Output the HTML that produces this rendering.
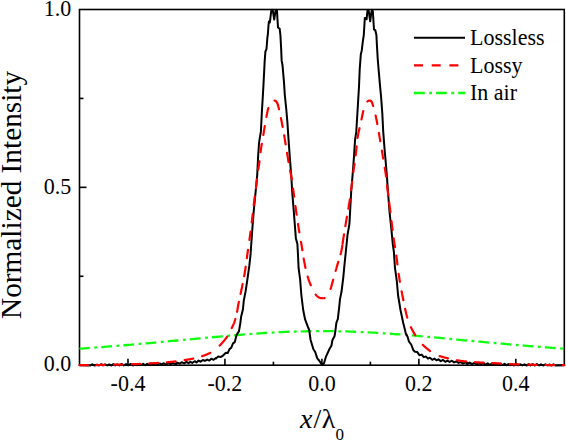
<!DOCTYPE html>
<html><head><meta charset="utf-8"><style>
html,body{margin:0;padding:0;background:#fff;}
svg{display:block;}
text{font-family:"Liberation Serif",serif;fill:#000;}
</style></head><body>
<svg width="566" height="441" viewBox="0 0 566 441">
<rect width="566" height="441" fill="#fff"/>
<g stroke="#000" stroke-width="1.6" fill="none">
<rect x="79.5" y="9.5" width="484.80" height="355.70"/>
<line x1="127.98" y1="365.20" x2="127.98" y2="358.70"/>
<line x1="176.46" y1="365.20" x2="176.46" y2="361.70"/>
<line x1="224.94" y1="365.20" x2="224.94" y2="358.70"/>
<line x1="273.42" y1="365.20" x2="273.42" y2="361.70"/>
<line x1="321.90" y1="365.20" x2="321.90" y2="358.70"/>
<line x1="370.38" y1="365.20" x2="370.38" y2="361.70"/>
<line x1="418.86" y1="365.20" x2="418.86" y2="358.70"/>
<line x1="467.34" y1="365.20" x2="467.34" y2="361.70"/>
<line x1="515.82" y1="365.20" x2="515.82" y2="358.70"/>
<line x1="79.50" y1="276.27" x2="83.50" y2="276.27"/>
<line x1="79.50" y1="187.35" x2="86.50" y2="187.35"/>
<line x1="79.50" y1="98.43" x2="83.50" y2="98.43"/>
</g>
<g fill="none" stroke-linejoin="round">
<polyline points="79.50,348.70 82.00,348.53 84.50,348.35 87.00,348.17 89.50,347.99 92.00,347.80 94.50,347.62 97.00,347.43 99.50,347.24 102.00,347.05 104.50,346.85 107.00,346.66 109.50,346.46 112.00,346.26 114.50,346.06 117.00,345.85 119.50,345.65 122.00,345.44 124.50,345.23 127.00,345.02 129.50,344.81 132.00,344.60 134.50,344.38 137.00,344.16 139.50,343.94 142.00,343.72 144.50,343.50 147.00,343.28 149.50,343.05 152.00,342.83 154.50,342.60 157.00,342.37 159.50,342.14 162.00,341.91 164.50,341.68 167.00,341.45 169.50,341.22 172.00,340.98 174.50,340.75 177.00,340.51 179.50,340.28 182.00,340.04 184.50,339.81 187.00,339.57 189.50,339.33 192.00,339.10 194.50,338.86 197.00,338.63 199.50,338.39 202.00,338.16 204.50,337.93 207.00,337.69 209.50,337.46 212.00,337.23 214.50,337.01 217.00,336.78 219.50,336.55 222.00,336.33 224.50,336.11 227.00,335.89 229.50,335.68 232.00,335.46 234.50,335.25 237.00,335.04 239.50,334.84 242.00,334.64 244.50,334.44 247.00,334.25 249.50,334.06 252.00,333.88 254.50,333.70 257.00,333.52 259.50,333.35 262.00,333.18 264.50,333.02 267.00,332.86 269.50,332.71 272.00,332.57 274.50,332.43 277.00,332.30 279.50,332.17 282.00,332.05 284.50,331.94 287.00,331.83 289.50,331.73 292.00,331.64 294.50,331.55 297.00,331.47 299.50,331.40 302.00,331.33 304.50,331.28 307.00,331.23 309.50,331.18 312.00,331.15 314.50,331.12 317.00,331.10 319.50,331.09 322.00,331.09 324.50,331.09 327.00,331.10 329.50,331.12 332.00,331.15 334.50,331.18 337.00,331.23 339.50,331.28 342.00,331.33 344.50,331.40 347.00,331.47 349.50,331.55 352.00,331.64 354.50,331.73 357.00,331.83 359.50,331.94 362.00,332.05 364.50,332.17 367.00,332.30 369.50,332.43 372.00,332.57 374.50,332.71 377.00,332.86 379.50,333.02 382.00,333.18 384.50,333.35 387.00,333.52 389.50,333.70 392.00,333.88 394.50,334.06 397.00,334.25 399.50,334.44 402.00,334.64 404.50,334.84 407.00,335.04 409.50,335.25 412.00,335.46 414.50,335.68 417.00,335.89 419.50,336.11 422.00,336.33 424.50,336.55 427.00,336.78 429.50,337.01 432.00,337.23 434.50,337.46 437.00,337.69 439.50,337.93 442.00,338.16 444.50,338.39 447.00,338.63 449.50,338.86 452.00,339.10 454.50,339.33 457.00,339.57 459.50,339.81 462.00,340.04 464.50,340.28 467.00,340.51 469.50,340.75 472.00,340.98 474.50,341.22 477.00,341.45 479.50,341.68 482.00,341.91 484.50,342.14 487.00,342.37 489.50,342.60 492.00,342.83 494.50,343.05 497.00,343.28 499.50,343.50 502.00,343.72 504.50,343.94 507.00,344.16 509.50,344.38 512.00,344.60 514.50,344.81 517.00,345.02 519.50,345.23 522.00,345.44 524.50,345.65 527.00,345.85 529.50,346.06 532.00,346.26 534.50,346.46 537.00,346.66 539.50,346.85 542.00,347.05 544.50,347.24 547.00,347.43 549.50,347.62 552.00,347.80 554.50,347.99 557.00,348.17 559.50,348.35 562.00,348.53 564.50,348.70 564.30,348.69" stroke="#10ff10" stroke-width="2.3" stroke-dasharray="10.8 4.55 2.8 4.1" stroke-dashoffset="0.5"/>
<polyline points="79.50,365.20 90.00,365.50 92.25,364.29 94.63,365.50 97.00,364.58 99.08,365.50 101.27,364.19 103.13,365.50 105.07,364.31 107.21,365.50 109.13,364.40 111.50,365.50 113.38,364.13 115.25,365.50 117.12,364.41 119.45,365.45 121.37,363.95 123.71,365.43 126.10,364.07 128.31,365.33 130.69,363.94 133.08,365.50 135.06,364.02 136.95,365.19 138.77,364.00 140.94,365.06 143.15,363.87 145.13,365.27 147.22,363.75 149.31,365.09 151.13,363.34 152.93,364.99 155.24,363.61 157.52,364.68 159.67,363.48 161.49,364.48 163.87,363.26 166.14,364.63 168.51,363.00 170.52,364.25 172.80,362.90 175.05,364.16 177.38,362.72 179.76,363.64 181.76,362.23 184.12,363.44 186.49,361.93 188.47,363.13 190.37,361.83 192.25,362.87 194.66,361.20 196.48,362.41 198.60,360.55 200.53,361.71 202.84,360.03 204.89,360.94 207.25,359.56 209.35,360.60 211.21,358.71 213.60,359.82 215.88,357.95 216.20,358.40 218.00,356.60 220.60,357.10 223.30,355.30 225.90,352.70 227.70,353.10 229.50,349.10 231.20,347.80 233.00,343.40 234.80,342.10 236.10,336.80 236.80,334.50 238.90,331.40 240.20,324.10 241.10,316.80 242.90,309.50 243.80,300.50 245.60,291.40 247.50,278.60 249.30,265.90 250.50,255.00 252.30,229.50 253.70,211.40 255.50,193.20 257.20,175.00 258.20,155.00 259.10,142.30 260.90,131.40 261.80,113.20 262.60,100.00 263.60,82.40 264.70,60.90 265.40,51.70 266.50,49.00 267.40,37.30 267.80,35.00 268.50,25.50 268.90,21.50 269.80,22.50 270.30,19.00 271.20,11.10 272.00,9.90 272.80,10.50 274.20,19.60 275.50,11.00 276.20,9.90 277.00,10.50 277.40,18.00 278.00,27.40 279.70,28.80 280.40,35.00 281.10,47.60 281.50,57.00 281.70,60.90 282.50,65.20 284.00,82.40 284.80,95.00 286.30,109.50 287.40,122.30 288.60,140.50 289.90,158.60 291.20,175.00 292.30,193.20 293.20,204.10 294.50,220.50 295.90,238.60 297.40,244.10 298.00,255.00 298.60,268.20 300.10,279.10 301.40,295.50 303.20,310.00 305.00,319.10 307.70,326.40 309.20,330.00 310.60,340.00 313.40,349.20 315.20,352.00 317.30,358.40 319.10,360.50 321.90,364.70 324.00,363.30 326.10,356.30 329.70,348.50 331.40,345.70 332.50,340.00 334.60,336.00 335.50,330.00 336.40,322.70 337.80,319.10 339.10,308.20 340.00,299.10 341.50,291.80 343.30,277.30 344.50,264.50 345.80,252.00 347.50,235.00 349.40,224.10 350.30,207.70 351.20,191.40 352.60,175.00 354.10,155.00 355.00,140.50 356.30,131.40 357.40,113.20 358.20,100.00 359.00,86.70 359.70,69.50 360.80,54.50 361.80,50.20 362.90,40.80 363.80,35.00 364.40,25.00 364.80,18.00 365.80,18.50 366.60,19.30 367.10,14.00 367.60,10.20 368.60,10.20 370.20,21.30 371.40,12.00 372.00,10.00 372.80,11.00 373.30,18.60 374.00,29.50 375.30,30.20 376.40,35.00 376.90,45.00 377.80,60.00 378.60,69.50 380.10,86.70 381.10,97.00 382.30,113.20 383.20,131.40 384.60,149.50 385.90,164.10 386.80,175.00 388.10,193.20 389.50,211.40 391.40,229.50 392.80,244.10 393.90,252.00 395.00,268.20 396.80,280.90 398.10,295.50 400.50,310.00 403.20,322.70 405.00,330.00 405.80,333.60 407.60,336.80 409.00,341.70 411.20,344.50 413.40,350.30 415.00,351.83 417.32,352.07 419.39,355.17 421.71,354.60 423.78,357.15 426.02,356.59 427.99,358.62 429.87,357.72 432.28,359.77 434.46,358.64 436.46,360.29 438.41,359.36 440.74,361.16 443.02,359.98 445.25,361.81 447.51,360.57 449.74,361.99 451.83,360.73 454.05,362.41 456.43,361.35 458.58,362.90 460.71,362.06 462.92,363.53 465.22,362.28 467.51,363.87 469.70,362.57 472.00,364.12 474.32,362.74 476.54,364.61 478.93,363.12 481.05,364.49 483.36,363.14 485.44,364.87 487.68,363.35 489.57,365.02 491.73,363.50 493.78,365.08 496.05,363.63 498.29,364.95 500.17,363.83 502.37,365.11 504.59,363.81 506.40,365.27 508.32,364.10 510.19,365.26 512.09,364.09 513.90,365.37 515.92,363.97 518.08,365.33 520.44,364.28 522.48,365.41 524.52,364.29 526.83,365.50 528.64,364.13 530.48,365.50 532.48,364.19 534.87,365.50 536.92,364.13 539.11,365.50 540.98,364.26 543.12,365.50 545.52,364.29 547.52,365.50 549.31,364.53 551.45,365.50 553.32,364.35 555.67,365.50 564.30,365.20" stroke="#000" stroke-width="2"/>
<path d="M79.50,365.20 L80.03,365.20 L80.56,365.19 L81.09,365.19 L81.62,365.18 L82.14,365.18 L82.65,365.18 L83.17,365.17 L83.69,365.17 L84.20,365.17 L84.73,365.16 L85.25,365.16 L85.78,365.16 L86.30,365.15 L86.83,365.15 L87.35,365.15 L87.88,365.14 M96.32,365.06 L96.85,365.05 L97.37,365.04 L97.90,365.03 L98.42,365.02 L98.95,365.02 L99.47,365.01 L100.00,365.00 L100.51,364.99 L101.01,364.98 L101.52,364.97 L102.03,364.96 L102.54,364.95 L103.04,364.94 L103.55,364.93 L104.06,364.92 L104.57,364.91 L104.82,364.91 M114.01,364.72 L114.52,364.70 L115.03,364.69 L115.54,364.68 L116.05,364.67 L116.56,364.66 L117.07,364.65 L117.58,364.63 L118.09,364.62 L118.60,364.61 L119.11,364.60 L119.62,364.58 L120.13,364.57 L120.64,364.56 L121.15,364.55 L121.66,364.53 L122.17,364.52 L122.42,364.51 M131.82,364.24 L132.34,364.22 L132.86,364.20 L133.38,364.19 L133.90,364.17 L134.43,364.15 L134.97,364.13 L135.50,364.11 L136.04,364.09 L136.57,364.07 L137.10,364.05 L137.64,364.03 L138.17,364.00 L138.70,363.98 L139.23,363.96 L139.76,363.93 L140.30,363.91 M149.50,363.43 L150.00,363.40 L150.53,363.37 L151.07,363.34 L151.60,363.31 L152.14,363.27 L152.67,363.24 L153.21,363.21 L153.73,363.18 L154.24,363.15 L154.75,363.12 L155.26,363.09 L155.77,363.06 L156.27,363.03 L156.78,363.00 L157.29,362.96 L157.81,362.93 L158.06,362.92 M166.86,362.28 L167.39,362.24 L167.92,362.19 L168.43,362.14 L168.95,362.09 L169.46,362.05 L169.97,362.00 L170.49,361.95 L171.00,361.90 L171.51,361.84 L172.01,361.79 L172.52,361.73 L173.02,361.67 L173.53,361.62 L174.04,361.56 L174.54,361.50 L175.05,361.44 L175.56,361.37 M184.61,360.11 L185.11,360.03 L185.61,359.95 L186.11,359.87 L186.61,359.79 L187.14,359.71 L187.67,359.62 L188.20,359.53 L188.73,359.44 L189.28,359.35 L189.83,359.25 L190.39,359.14 L190.95,359.04 L191.47,358.93 L191.99,358.81 L192.51,358.70 L193.03,358.57 L193.29,358.50 M202.10,356.20 L202.60,356.02 L203.11,355.83 L203.60,355.65 L204.09,355.46 L204.58,355.28 L205.08,355.08 L205.59,354.88 L206.11,354.67 L206.62,354.46 L207.14,354.25 L207.65,354.03 L208.14,353.82 L208.61,353.61 L209.08,353.40 L209.55,353.17 L210.03,352.94 L210.26,352.82 M219.70,345.60 L220.07,345.22 L220.43,344.84 L220.80,344.46 L221.15,344.07 L221.50,343.68 L221.85,343.29 L222.20,342.89 L222.57,342.46 L222.93,342.04 L223.29,341.62 L223.65,341.19 L224.00,340.77 L224.36,340.34 L224.69,339.92 L225.02,339.52 L225.34,339.12 L225.66,338.72 L225.97,338.31 L226.29,337.91 L226.60,337.50 L226.96,336.99 L227.14,336.74 M231.72,328.09 L232.00,327.50 L232.29,326.91 L232.57,326.32 L232.86,325.74 L233.15,325.14 L233.40,324.60 L233.62,324.11 L233.84,323.60 L234.06,323.05 L234.25,322.52 L234.43,322.01 L234.60,321.50 L234.75,320.99 L234.90,320.48 L235.05,319.97 L235.18,319.46 L235.32,318.96 M237.02,311.80 L237.14,311.27 L237.25,310.74 L237.36,310.23 L237.46,309.71 L237.56,309.18 L237.65,308.65 L237.75,308.01 L237.83,307.44 L237.90,306.94 L237.99,306.41 L238.08,305.83 L238.18,305.26 L238.29,304.68 L238.40,304.10 L238.50,303.61 L238.60,303.12 L238.70,302.63 L238.81,302.11 L238.87,301.84 M240.58,293.90 L240.68,293.40 L240.79,292.90 L240.89,292.40 L241.00,291.90 L241.10,291.40 L241.21,290.87 L241.32,290.33 L241.43,289.80 L241.54,289.26 L241.65,288.73 L241.76,288.21 L241.87,287.69 L241.98,287.18 L242.09,286.66 L242.20,286.14 L242.30,285.63 L242.41,285.13 L242.51,284.63 L242.62,284.13 M244.16,276.26 L244.25,275.75 L244.34,275.24 L244.43,274.73 L244.52,274.22 L244.61,273.71 L244.70,273.20 L244.78,272.70 L244.86,272.20 L244.94,271.70 L245.02,271.20 L245.09,270.70 L245.17,270.20 L245.25,269.70 L245.32,269.21 L245.40,268.71 L245.47,268.22 L245.54,267.72 L245.61,267.22 L245.68,266.73 M246.86,258.08 L246.94,257.56 L247.01,257.03 L247.08,256.50 L247.15,255.97 L247.22,255.45 L247.29,254.92 L247.36,254.39 L247.43,253.86 L247.51,253.33 L247.58,252.80 L247.65,252.26 L247.73,251.73 L247.80,251.20 L247.88,250.67 L247.95,250.14 L247.99,249.88 M249.42,239.92 L249.50,239.41 L249.57,238.90 L249.64,238.38 L249.71,237.86 L249.79,237.35 L249.86,236.83 L249.93,236.30 L250.01,235.76 L250.08,235.22 L250.15,234.68 L250.23,234.14 L250.30,233.60 L250.37,233.07 L250.44,232.55 L250.51,232.02 L250.58,231.50 M251.74,222.32 L251.81,221.82 L251.87,221.32 L251.93,220.81 L252.00,220.30 L252.06,219.77 L252.12,219.25 L252.19,218.73 L252.25,218.20 L252.32,217.68 L252.38,217.15 L252.44,216.62 L252.51,216.09 L252.57,215.56 L252.64,215.03 L252.70,214.50 L252.76,213.97 M253.74,205.18 L253.79,204.65 L253.85,204.15 L253.91,203.65 L253.96,203.15 L254.02,202.65 L254.08,202.13 L254.14,201.61 L254.21,201.08 L254.27,200.56 L254.33,200.03 L254.40,199.48 L254.47,198.93 L254.54,198.39 L254.61,197.84 L254.68,197.34 L254.75,196.84 L254.82,196.33 M255.95,188.08 L256.02,187.54 L256.09,187.00 L256.16,186.47 L256.23,185.93 L256.30,185.40 L256.36,184.88 L256.43,184.36 L256.49,183.84 L256.56,183.32 L256.62,182.81 L256.68,182.30 L256.74,181.79 L256.80,181.28 L256.86,180.77 L256.91,180.27 L256.97,179.77 L257.03,179.27 M258.23,169.64 L258.31,169.13 L258.39,168.61 L258.47,168.10 L258.55,167.59 L258.63,167.08 L258.71,166.58 L258.79,166.07 L258.86,165.57 L258.94,165.08 L259.02,164.58 L259.10,164.08 L259.18,163.56 L259.26,163.01 L259.35,162.45 L259.43,161.90 L259.51,161.35 M260.56,152.08 L260.62,151.57 L260.69,151.05 L260.76,150.53 L260.83,150.02 L260.90,149.50 L260.98,148.97 L261.06,148.44 L261.14,147.91 L261.22,147.38 L261.30,146.86 L261.39,146.33 L261.47,145.81 L261.56,145.29 L261.64,144.76 L261.73,144.25 L261.81,143.74 M263.30,134.98 L263.38,134.47 L263.47,133.96 L263.56,133.45 L263.64,132.94 L263.73,132.43 L263.81,131.92 L263.90,131.41 L263.98,130.90 L264.07,130.39 L264.16,129.86 L264.24,129.33 L264.33,128.80 L264.42,128.27 L264.51,127.74 L264.60,127.21 L264.68,126.68 L264.77,126.15 M266.40,116.80 L266.50,116.30 L266.59,115.79 L266.69,115.29 L266.79,114.78 L266.89,114.27 L266.99,113.76 L267.10,113.25 L267.20,112.73 L267.32,112.20 L267.43,111.67 L267.55,111.12 L267.69,110.55 L267.82,109.98 L267.95,109.46 L268.09,108.95 L268.24,108.39 L268.33,108.10 M274.60,100.60 L275.27,100.83 L275.96,101.27 L276.44,101.80 L276.87,102.38 L277.32,103.13 L277.56,103.71 L277.75,104.31 L277.92,104.86 L278.06,105.38 L278.20,105.90 L278.33,106.42 L278.46,106.94 L278.58,107.46 L278.70,107.97 L278.82,108.47 L278.94,108.97 L278.99,109.22 M280.93,118.20 L281.03,118.71 L281.14,119.22 L281.24,119.73 L281.35,120.24 L281.45,120.77 L281.56,121.30 L281.67,121.83 L281.77,122.37 L281.88,122.90 L281.98,123.43 L282.08,123.95 L282.18,124.48 L282.29,125.01 L282.39,125.53 L282.49,126.06 L282.58,126.59 L282.63,126.85 M284.15,135.26 L284.24,135.79 L284.33,136.31 L284.42,136.84 L284.50,137.36 L284.60,137.90 L284.69,138.44 L284.77,138.98 L284.87,139.52 L284.95,140.06 L285.04,140.58 L285.12,141.08 L285.20,141.58 L285.29,142.08 L285.37,142.59 L285.45,143.09 L285.53,143.59 L285.61,144.10 L285.65,144.35 M287.05,152.93 L287.13,153.44 L287.22,153.95 L287.30,154.47 L287.39,154.99 L287.47,155.52 L287.56,156.05 L287.64,156.57 L287.73,157.10 L287.82,157.63 L287.90,158.15 L287.99,158.68 L288.07,159.20 L288.16,159.73 L288.24,160.25 L288.33,160.76 L288.41,161.26 L288.49,161.77 L288.53,162.03 M290.09,170.67 L290.20,171.20 L290.32,171.75 L290.44,172.31 L290.57,172.85 L290.68,173.39 L290.80,173.92 L290.92,174.49 L291.04,175.06 L291.15,175.62 L291.25,176.17 L291.35,176.72 L291.44,177.26 L291.53,177.78 L291.61,178.29 L291.70,178.81 L291.77,179.34 L291.81,179.60 M293.09,188.73 L293.16,189.24 L293.24,189.77 L293.31,190.30 L293.38,190.83 L293.45,191.36 L293.53,191.89 L293.60,192.42 L293.66,192.92 L293.73,193.42 L293.80,193.92 L293.87,194.42 L293.93,194.93 L294.00,195.43 L294.07,195.94 L294.14,196.48 L294.17,196.74 M295.44,206.18 L295.51,206.69 L295.58,207.20 L295.65,207.71 L295.72,208.22 L295.79,208.73 L295.86,209.24 L295.94,209.76 L296.01,210.27 L296.08,210.79 L296.16,211.31 L296.23,211.82 L296.30,212.34 L296.37,212.84 L296.44,213.34 L296.52,213.83 L296.59,214.33 L296.62,214.58 M298.01,223.97 L298.09,224.48 L298.17,224.97 L298.25,225.47 L298.33,225.97 L298.40,226.46 L298.48,226.96 L298.56,227.45 L298.64,227.95 L298.72,228.46 L298.81,228.97 L298.89,229.47 L298.97,229.98 L299.06,230.49 L299.14,230.99 L299.22,231.50 L299.31,232.01 L299.35,232.27 M300.99,241.84 L301.08,242.36 L301.17,242.87 L301.26,243.38 L301.35,243.89 L301.43,244.39 L301.52,244.90 L301.61,245.41 L301.69,245.92 L301.78,246.43 L301.87,246.94 L301.95,247.45 L302.04,247.96 L302.13,248.48 L302.21,248.99 L302.30,249.50 L302.38,250.00 L302.42,250.25 M303.68,258.49 L303.77,259.05 L303.86,259.58 L303.96,260.11 L304.05,260.64 L304.15,261.16 L304.24,261.67 L304.34,262.19 L304.44,262.70 L304.54,263.23 L304.64,263.77 L304.74,264.30 L304.85,264.84 L304.95,265.38 L305.06,265.92 L305.17,266.46 L305.28,267.01 L305.39,267.55 L305.45,267.82 M307.68,276.62 L307.85,277.16 L308.02,277.70 L308.19,278.22 L308.36,278.75 L308.54,279.27 L308.72,279.79 L308.90,280.30 L309.08,280.81 L309.26,281.32 L309.45,281.81 L309.64,282.31 L309.83,282.81 L310.02,283.29 L310.21,283.78 L310.40,284.26 L310.60,284.74 L310.81,285.22 M315.65,294.56 L316.06,295.08 L316.46,295.55 L316.85,295.96 L317.23,296.30 L317.72,296.69 L318.30,297.10 L318.91,297.47 L319.52,297.75 L320.14,297.96 L320.77,298.09 L321.39,298.16 L322.00,298.19 L322.59,298.21 L323.17,298.24 L323.74,298.24 L324.30,298.17 L324.59,298.10 M330.61,288.91 L330.79,288.36 L330.97,287.82 L331.14,287.26 L331.30,286.69 L331.45,286.16 L331.58,285.65 L331.71,285.15 L331.85,284.63 L332.00,284.09 L332.14,283.55 L332.28,283.02 L332.42,282.51 L332.56,282.01 L332.70,281.50 L332.84,281.00 L332.99,280.49 L333.13,279.99 L333.20,279.74 M335.62,270.98 L335.76,270.47 L335.90,269.97 L336.04,269.46 L336.19,268.96 L336.33,268.45 L336.47,267.95 L336.62,267.44 L336.77,266.93 L336.91,266.43 L337.07,265.89 L337.23,265.36 L337.39,264.82 L337.54,264.32 L337.69,263.82 L337.84,263.33 L338.01,262.76 L338.18,262.19 L338.27,261.90 M340.63,254.25 L340.76,253.76 L340.88,253.28 L341.01,252.80 L341.12,252.28 L341.23,251.77 L341.34,251.26 L341.45,250.72 L341.55,250.17 L341.65,249.62 L341.75,249.07 L341.84,248.54 L341.93,248.04 L342.01,247.53 L342.09,247.03 L342.17,246.52 L342.25,246.02 L342.32,245.52 M342.59,243.77 L342.66,243.26 L342.74,242.74 L342.82,242.22 L342.89,241.70 L342.97,241.18 L343.04,240.66 L343.12,240.13 L343.20,239.61 L343.28,239.09 L343.35,238.57 L343.43,238.04 L343.51,237.53 L343.59,237.02 L343.67,236.52 L343.74,236.01 L343.82,235.51 L343.90,235.00 L343.99,234.46 M345.36,226.07 L345.44,225.57 L345.52,225.07 L345.60,224.57 L345.69,224.07 L345.77,223.58 L345.85,223.08 L345.93,222.58 L346.02,222.08 L346.10,221.58 L346.18,221.08 L346.27,220.59 L346.35,220.09 L346.43,219.59 L346.52,219.10 L346.60,218.60 L346.69,218.06 L346.78,217.53 L346.88,216.99 L346.92,216.72 M348.38,208.54 L348.47,208.00 L348.56,207.50 L348.64,206.99 L348.73,206.49 L348.81,205.99 L348.90,205.48 L348.98,204.96 L349.06,204.43 L349.15,203.90 L349.23,203.37 L349.32,202.83 L349.40,202.30 L349.47,201.80 L349.54,201.31 L349.62,200.81 L349.69,200.32 L349.76,199.82 L349.83,199.33 M351.07,190.22 L351.13,189.72 L351.20,189.22 L351.27,188.71 L351.33,188.21 L351.40,187.70 L351.46,187.20 L351.53,186.69 L351.60,186.18 L351.66,185.68 L351.73,185.17 L351.79,184.65 L351.86,184.13 L351.93,183.61 L352.00,183.08 L352.07,182.56 L352.13,182.04 L352.17,181.79 M353.36,172.08 L353.43,171.54 L353.50,171.00 L353.57,170.48 L353.64,169.96 L353.71,169.44 L353.78,168.91 L353.85,168.39 L353.92,167.87 L353.99,167.34 L354.07,166.81 L354.14,166.29 L354.21,165.76 L354.28,165.24 L354.35,164.73 L354.43,164.21 L354.46,163.96 M355.63,155.35 L355.69,154.82 L355.76,154.28 L355.83,153.74 L355.90,153.20 L355.96,152.68 L356.02,152.16 L356.08,151.64 L356.14,151.12 L356.19,150.60 L356.25,150.08 L356.30,149.57 L356.35,149.05 L356.40,148.53 L356.46,148.01 L356.51,147.49 L356.56,146.98 L356.60,146.47 M357.56,137.80 L357.63,137.30 L357.70,136.80 L357.79,136.28 L357.88,135.76 L357.97,135.25 L358.06,134.73 L358.17,134.20 L358.28,133.65 L358.39,133.11 L358.51,132.56 L358.62,132.03 L358.74,131.51 L358.86,131.00 L358.98,130.48 L359.11,129.97 L359.23,129.46 L359.35,128.95 L359.48,128.45 L359.54,128.20 M361.48,119.39 L361.58,118.89 L361.68,118.38 L361.78,117.88 L361.89,117.38 L362.00,116.83 L362.11,116.28 L362.23,115.74 L362.34,115.19 L362.45,114.68 L362.56,114.18 L362.67,113.67 L362.78,113.17 L362.90,112.66 L363.02,112.16 L363.14,111.65 L363.27,111.15 M367.42,101.49 L367.97,100.99 L368.69,100.60 L369.43,100.52 L370.16,100.66 L370.85,100.78 L371.36,101.30 L371.63,101.72 L371.86,102.26 L372.10,102.80 L372.29,103.35 L372.47,103.90 L372.66,104.44 L372.82,104.98 L372.98,105.51 L373.14,106.04 M375.61,115.55 L375.72,116.05 L375.84,116.55 L375.96,117.06 L376.07,117.59 L376.18,118.12 L376.30,118.65 L376.41,119.18 L376.52,119.71 L376.62,120.24 L376.72,120.77 L376.83,121.29 L376.93,121.83 L377.02,122.36 L377.12,122.89 L377.22,123.42 L377.31,123.96 M378.88,132.97 L378.97,133.49 L379.06,134.02 L379.16,134.55 L379.25,135.09 L379.34,135.63 L379.44,136.17 L379.53,136.70 L379.62,137.20 L379.70,137.70 L379.79,138.19 L379.87,138.69 L379.96,139.19 L380.04,139.69 L380.13,140.19 L380.21,140.69 L380.30,141.19 M381.87,150.49 L381.95,151.01 L382.04,151.54 L382.13,152.06 L382.21,152.58 L382.30,153.10 L382.38,153.62 L382.47,154.15 L382.56,154.67 L382.64,155.19 L382.73,155.71 L382.81,156.24 L382.90,156.75 L382.98,157.26 L383.06,157.76 L383.15,158.27 L383.19,158.53 M384.74,167.86 L384.83,168.37 L384.92,168.87 L385.01,169.37 L385.09,169.87 L385.19,170.43 L385.28,170.98 L385.38,171.54 L385.47,172.10 L385.56,172.66 L385.65,173.22 L385.72,173.73 L385.79,174.24 L385.86,174.75 L385.93,175.26 L386.00,175.78 L386.06,176.30 L386.09,176.56 M386.98,185.27 L387.04,185.78 L387.10,186.30 L387.17,186.84 L387.24,187.38 L387.30,187.92 L387.37,188.45 L387.45,189.01 L387.52,189.56 L387.59,190.11 L387.67,190.67 L387.74,191.18 L387.81,191.69 L387.88,192.20 L387.95,192.71 L388.02,193.23 L388.09,193.76 L388.16,194.30 L388.24,194.83 L388.27,195.10 M389.26,202.71 L389.33,203.24 L389.39,203.77 L389.45,204.28 L389.51,204.80 L389.58,205.32 L389.64,205.84 L389.70,206.36 L389.76,206.86 L389.82,207.36 L389.88,207.86 L389.94,208.36 L390.00,208.86 L390.06,209.36 L390.12,209.86 L390.18,210.36 L390.24,210.87 L390.30,211.38 L390.36,211.89 L390.39,212.15 M391.46,221.03 L391.53,221.57 L391.59,222.10 L391.66,222.63 L391.72,223.17 L391.79,223.70 L391.86,224.24 L391.92,224.78 L391.99,225.32 L392.05,225.85 L392.12,226.39 L392.18,226.93 L392.25,227.46 L392.32,228.00 L392.38,228.54 L392.45,229.08 L392.51,229.61 L392.55,229.88 M393.67,238.45 L393.74,238.96 L393.82,239.49 L393.89,240.02 L393.97,240.55 L394.05,241.08 L394.13,241.61 L394.20,242.12 L394.28,242.63 L394.36,243.14 L394.44,243.65 L394.52,244.16 L394.60,244.66 L394.68,245.16 L394.76,245.66 L394.85,246.16 L394.93,246.66 L395.01,247.16 M396.30,255.50 L396.37,256.04 L396.44,256.58 L396.52,257.12 L396.59,257.65 L396.66,258.19 L396.73,258.71 L396.79,259.22 L396.85,259.73 L396.91,260.23 L396.98,260.74 L397.04,261.25 L397.10,261.76 L397.16,262.27 L397.22,262.78 L397.28,263.29 L397.35,263.81 L397.41,264.32 M398.64,273.86 L398.72,274.37 L398.79,274.88 L398.87,275.39 L398.95,275.90 L399.03,276.41 L399.11,276.90 L399.19,277.40 L399.27,277.89 L399.35,278.39 L399.43,278.88 L399.51,279.39 L399.60,279.93 L399.69,280.46 L399.78,280.99 L399.87,281.53 L399.92,281.79 M401.64,291.26 L401.73,291.76 L401.82,292.26 L401.92,292.76 L402.01,293.28 L402.12,293.81 L402.22,294.34 L402.32,294.87 L402.42,295.41 L402.52,295.94 L402.62,296.45 L402.72,296.95 L402.82,297.45 L402.91,297.95 L403.01,298.45 L403.11,298.95 L403.21,299.44 L403.31,299.97 L403.36,300.23 M405.16,308.95 L405.27,309.46 L405.38,309.96 L405.49,310.46 L405.60,310.96 L405.71,311.45 L405.82,311.95 L405.93,312.44 L406.05,312.95 L406.17,313.46 L406.28,313.96 L406.41,314.49 L406.55,315.04 L406.69,315.60 L406.83,316.14 L406.98,316.67 L407.13,317.21 L407.29,317.74 M410.91,327.13 L411.15,327.66 L411.40,328.20 L411.64,328.69 L411.88,329.19 L412.11,329.66 L412.34,330.11 L412.58,330.56 L412.87,331.09 L413.16,331.62 L413.44,332.12 L413.73,332.63 L414.02,333.12 L414.31,333.61 L414.61,334.11 L414.90,334.60 L415.19,335.09 M422.84,344.87 L423.28,345.29 L423.72,345.71 L424.17,346.12 L424.62,346.54 L425.08,346.95 L425.55,347.35 L426.02,347.76 L426.48,348.15 L426.95,348.54 L427.42,348.92 L427.88,349.30 L428.33,349.67 L428.78,350.02 L429.21,350.37 L429.64,350.71 L430.05,351.04 M439.71,356.11 L440.24,356.27 L440.73,356.42 L441.22,356.57 L441.73,356.72 L442.24,356.86 L442.76,357.01 L443.30,357.15 L443.83,357.29 L444.40,357.44 L444.98,357.58 L445.52,357.71 L446.04,357.84 L446.55,357.96 L447.09,358.08 L447.66,358.21 L447.94,358.27 M457.11,360.23 L457.61,360.32 L458.12,360.41 L458.62,360.50 L459.13,360.58 L459.65,360.66 L460.17,360.74 L460.68,360.82 L461.20,360.90 L461.73,360.97 L462.25,361.03 L462.78,361.10 L463.31,361.17 L463.84,361.23 L464.38,361.29 L464.92,361.35 L465.46,361.40 L466.00,361.46 M475.14,362.19 L475.66,362.23 L476.18,362.26 L476.70,362.30 L477.21,362.33 L477.73,362.36 L478.24,362.39 L478.76,362.43 L479.27,362.46 L479.78,362.49 L480.29,362.52 L480.80,362.54 L481.31,362.57 L481.82,362.60 L482.32,362.62 L482.83,362.65 L483.35,362.68 L483.61,362.69 M492.28,363.09 L492.79,363.11 L493.31,363.14 L493.84,363.16 L494.37,363.19 L494.91,363.22 L495.44,363.25 L495.97,363.27 L496.50,363.30 L497.02,363.33 L497.55,363.36 L498.07,363.39 L498.60,363.42 L499.12,363.46 L499.65,363.49 L500.18,363.52 L500.70,363.56 L500.97,363.58 M509.88,364.14 L510.41,364.17 L510.92,364.19 L511.44,364.21 L511.95,364.23 L512.47,364.26 L512.98,364.28 L513.50,364.30 L514.02,364.32 L514.54,364.33 L515.06,364.35 L515.58,364.37 L516.09,364.38 L516.61,364.40 L517.13,364.42 L517.65,364.43 L518.15,364.45 L518.66,364.46 M528.12,364.68 L528.64,364.69 L529.16,364.70 L529.68,364.71 L530.20,364.72 L530.72,364.73 L531.23,364.74 L531.75,364.75 L532.26,364.76 L532.78,364.77 L533.29,364.78 L533.80,364.79 L534.32,364.80 L534.83,364.81 L535.34,364.82 L535.86,364.83 L536.38,364.84 L536.64,364.84 M545.50,364.98 L546.03,364.99 L546.55,365.00 L547.07,365.01 L547.59,365.01 L548.12,365.02 L548.64,365.03 L549.16,365.03 L549.68,365.04 L550.19,365.05 L550.71,365.05 L551.23,365.06 L551.74,365.06 L552.26,365.07 L552.77,365.08 L553.29,365.08 L553.81,365.09 L554.31,365.09 M562.99,365.19 L563.51,365.19 L564.04,365.20 L564.30,365.20" stroke="#ff0000" stroke-width="2.2" stroke-linecap="round"/>
</g>
<g font-size="22">
<text transform="translate(127.98,390.8) scale(1,1.045)" text-anchor="middle">-0.4</text><text transform="translate(224.94,390.8) scale(1,1.045)" text-anchor="middle">-0.2</text><text transform="translate(321.90,390.8) scale(1,1.045)" text-anchor="middle">0.0</text><text transform="translate(418.86,390.8) scale(1,1.045)" text-anchor="middle">0.2</text><text transform="translate(515.82,390.8) scale(1,1.045)" text-anchor="middle">0.4</text>
<text transform="translate(71.2,371.40) scale(1,1.045)" text-anchor="end">0.0</text><text transform="translate(71.2,193.55) scale(1,1.045)" text-anchor="end">0.5</text><text transform="translate(71.2,15.70) scale(1,1.045)" text-anchor="end">1.0</text>
</g>
<g font-size="22">
<line x1="414" y1="37.7" x2="465" y2="37.7" stroke="#000" stroke-width="2"/>
<line x1="414" y1="65.3" x2="465" y2="65.3" stroke="#ff0000" stroke-width="2.2" stroke-dasharray="9 8.7"/>
<line x1="414" y1="93" x2="465.2" y2="93" stroke="#10ff10" stroke-width="2.3" stroke-dasharray="10.7 4.5 2.8 4.1"/>
<text transform="translate(470,45.3) scale(1,1.04)">Lossless</text>
<text transform="translate(470,72.6) scale(1,1.04)">Lossy</text>
<text transform="translate(470,99.8) scale(1,1.04)">In air</text>
</g>
<text font-size="29.3" transform="translate(21.3,319) rotate(-90)">Normalized Intensity</text>
<text font-size="28" font-style="italic" x="300" y="428">x</text>
<text font-size="28" x="313.4" y="428">/</text>
<text font-size="28" x="321.8" y="428">λ</text>
<text font-size="17" x="335.4" y="440.3">0</text>
</svg>
</body></html>
